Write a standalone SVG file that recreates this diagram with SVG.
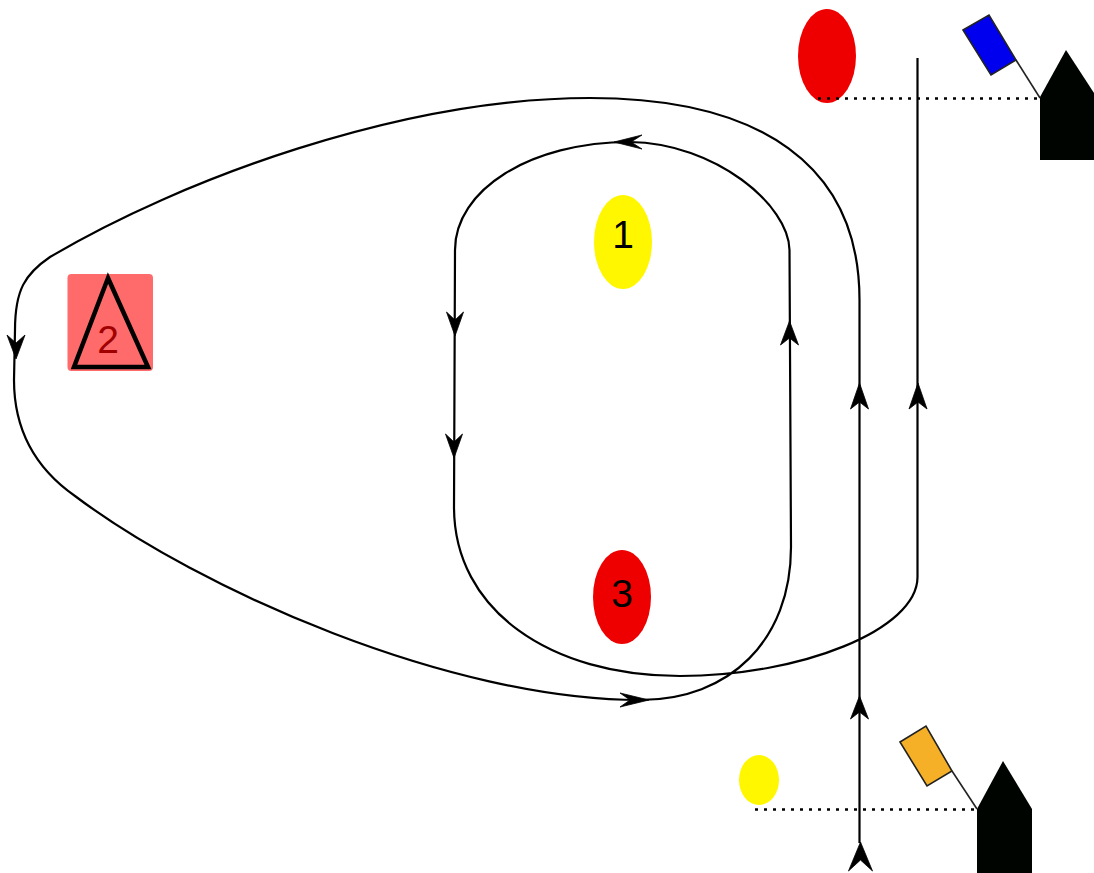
<svg xmlns="http://www.w3.org/2000/svg" width="1094" height="873" viewBox="0 0 1094 873">
<style>
.c{fill:none;stroke:#000;stroke-width:2.200}
.a{fill:#000;stroke:#000;stroke-width:.8}
.d{fill:none;stroke:#000;stroke-width:2.500;stroke-dasharray:3 6}
.b{fill:#000400;stroke:none}
.f{stroke:#222;stroke-width:1.600}
.t{font-family:"Liberation Sans",Arial,sans-serif;font-size:39px;text-anchor:middle}
</style>
<rect width="1094" height="873" fill="#fff"/>
<g id="mark-1"><ellipse cx="623" cy="242" rx="29" ry="47" fill="#fff700"/><text class="t" x="623" y="248">1</text></g>
<g id="mark-2"><rect x="67.500" y="274" width="85.500" height="97" rx="4" fill="#ff6b6b"/><path d="M108 278L148 367H74Z" fill="none" stroke="#000" stroke-width="4.500"/><text class="t" x="108" y="353" fill="#a00000">2</text></g>
<g id="mark-3"><ellipse cx="622" cy="597" rx="29" ry="47" fill="#e00"/><text class="t" x="622" y="607">3</text></g>
<g id="buoy-red"><ellipse cx="827" cy="56" rx="29" ry="47" fill="#e00"/></g>
<g id="buoy-yellow"><ellipse cx="759" cy="780" rx="20" ry="25" fill="#fff700"/></g>
<g id="boat-top"><path class="b" d="M1040 97L1066 50L1094 93V160H1040Z"/><path class="f" d="M1040 98L1016 60" fill="none"/><path class="f" fill="#00e" d="M963 30L989 15L1016 60L991 75Z"/></g>
<g id="boat-bottom"><path class="b" d="M977 809L1003 761L1032 809V873H977Z"/><path class="f" d="M977 809L952 771" fill="none"/><path class="f" fill="#f5b027" d="M900 742L926 726L952 771L927 786Z"/></g>
<g id="connectors">
<path class="c" d="M917.500 58V577C917.500 630 800 676 680 676C550 676 454 610 454 507L455 250C455 190 530 142 630 142C715 143 789 205 789.500 250L791 547C791 640 730 700 640 700C450 700 200 590 75 496C35 468 14 430 14 380L15 330C15 290 25 274 50 257C180 180 400 98 590 98C760 98 859.500 165 859.500 300V843"/>
<path class="d" d="M818 98.500H1040"/>
<path class="d" d="M755 809.500H976"/>
<path class="a" d="M918 383l9 26l-9-7l-9 7z"/>
<path class="a" d="M859.500 383l9 26l-9-7l-9 7z"/>
<path class="a" d="M859.500 696l9 23l-9-7l-9 7z"/>
<path class="a" d="M860.500 842l12 29l-12-11l-12 11z"/>
<path class="a" d="M789.500 321l9 24l-9-7l-9 7z"/>
<path class="a" d="M455 336l-8.500-24l8.500 8l8.500-8z"/>
<path class="a" d="M454 458l-8.500-24l8.500 8l8.500-8z"/>
<path class="a" d="M16 359l-9-24l9 8l9-8z"/>
<path class="a" d="M614 142l28-7l-11 7l11 7z"/>
<path class="a" d="M649 700l-29-7l10 7l-10 7z"/>
</g>
</svg>
